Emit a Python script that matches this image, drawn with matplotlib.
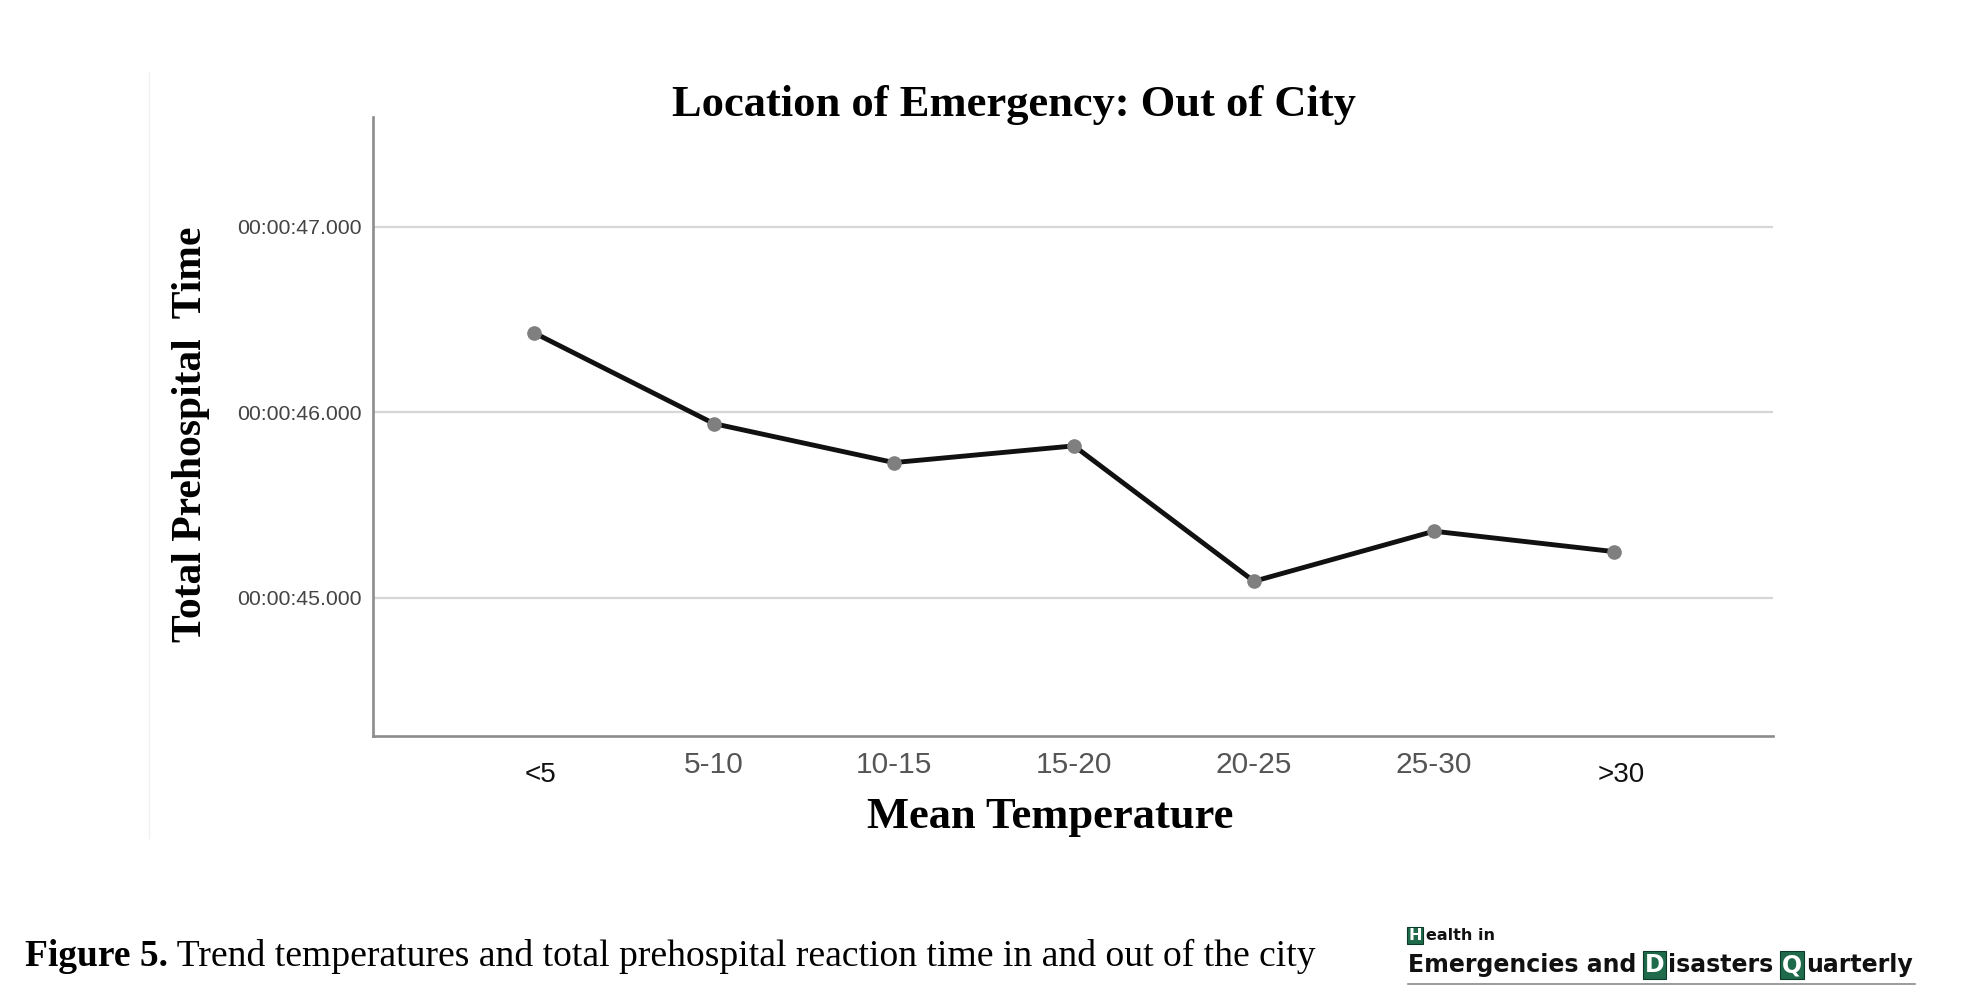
import matplotlib
matplotlib.use("Agg")
import matplotlib.pyplot as plt
from matplotlib.lines import Line2D
from matplotlib.transforms import ScaledTranslation

# data (seconds of total prehospital time)
temp_groups = ['<5', '5-10', '10-15', '15-20', '20-25', '25-30', '>30']
prehospital_sec = [46.43, 45.94, 45.73, 45.82, 45.09, 45.36, 45.25]
y_ticks = [45, 46, 47]

title = 'Location of Emergency: Out of City'
x_title = 'Mean Temperature'
y_title = 'Total Prehospital  Time'
caption_bold = 'Figure 5.'
caption_rest = ' Trend temperatures and total prehospital reaction time in and out of the city'

GREEN = '#1e6a4a'

#Figure Settings
fig = plt.figure(figsize=(19.61, 10), dpi=100)
ax = fig.add_axes([0.1902, 0.264, 0.7139, 0.619])

x = list(range(len(temp_groups)))
ax.plot(x, prehospital_sec, color='#111111', lw=3.5, zorder=3, solid_capstyle='round')
ax.plot(x, prehospital_sec, ls='none', marker='o', ms=9.5, color='#7f7f7f', zorder=4)

ax.set_xlim(-0.894, 6.883)
ax.set_ylim(44.256, 47.593)
ax.set_yticks(y_ticks)
ax.set_yticklabels(['00:00:%02d.000' % v for v in y_ticks])
ax.set_xticks(x)
ax.set_xticklabels(temp_groups)

ax.grid(axis='y', color='#d6d6d6', lw=1.6)
ax.set_axisbelow(True)
for s in ['top', 'right']:
    ax.spines[s].set_visible(False)
for s in ['left', 'bottom']:
    ax.spines[s].set_color('#8c8c8c')
    ax.spines[s].set_linewidth(1.9)

ax.tick_params(axis='y', length=0, pad=8, labelsize=15.3, labelcolor='#444444')
ax.tick_params(axis='x', length=0, pad=11, labelsize=21.5, labelcolor='#555555')
for lab in ax.get_yticklabels():
    lab.set_fontfamily('Liberation Sans')
for i, lab in enumerate(ax.get_xticklabels()):
    lab.set_fontfamily('Liberation Sans')
    if i in (0, len(temp_groups) - 1):
        # the end labels sit a bit lower and are darker
        lab.set_color('#111111')
        lab.set_fontsize(20)
        lab.set_transform(lab.get_transform() + ScaledTranslation(0.07, -0.11, fig.dpi_scale_trans))

fig.text(0.517, 0.884, title, ha='center', va='baseline', fontsize=32,
         fontweight='bold', family='Liberation Serif')
fig.text(0.5354, 0.172, x_title, ha='center', va='baseline', fontsize=32,
         fontweight='bold', family='Liberation Serif')
fig.text(0.0975, 0.566, y_title, ha='center', va='center', rotation=90, fontsize=30,
         fontweight='bold', family='Liberation Serif')

# faint edge of the pasted chart image
fig.add_artist(Line2D([149 / 1961, 149 / 1961], [1 - 838 / 1000, 1 - 72 / 1000],
                      color='#f0f0f0', lw=1))

# caption
renderer = fig.canvas.get_renderer()
t1 = fig.text(25 / 1961, 0.034, caption_bold, ha='left', va='baseline', fontsize=27,
              fontweight='bold', family='Liberation Serif')
bb = t1.get_window_extent(renderer)
fig.text(bb.x1 / 1961, 0.034, caption_rest, ha='left', va='baseline', fontsize=27.05,
         family='Liberation Serif')

# journal logo
def logo_line(parts, x0, y0, size):
    xpos = x0
    for txt, boxed in parts:
        if boxed:
            t = fig.text(xpos / 1961, y0, txt, ha='left', va='baseline', fontsize=size,
                         fontweight='bold', family='DejaVu Sans', color='white',
                         bbox=dict(boxstyle='square,pad=0.08', fc=GREEN, ec='#0c3a28', lw=0.8))
            bb = t.get_window_extent(renderer)
            xpos = bb.x1 + 4
        else:
            t = fig.text(xpos / 1961, y0, txt, ha='left', va='baseline', fontsize=size,
                         fontweight='bold', family='DejaVu Sans', color='#111111')
            bb = t.get_window_extent(renderer)
            xpos = bb.x1
    return xpos

logo_line([('H', True), ('ealth in', False)], 1408, 1 - 940 / 1000, 11.5)
x_end = logo_line([('Emergencies and ', False), ('D', True), ('isasters ', False),
                   ('Q', True), ('uarterly', False)], 1408, 1 - 972 / 1000, 17)
fig.add_artist(Line2D([1408 / 1961, 1915 / 1961], [1 - 984 / 1000, 1 - 984 / 1000],
                      color='#8a8a8a', lw=1.2))

fig.savefig('out.png', dpi=100)
